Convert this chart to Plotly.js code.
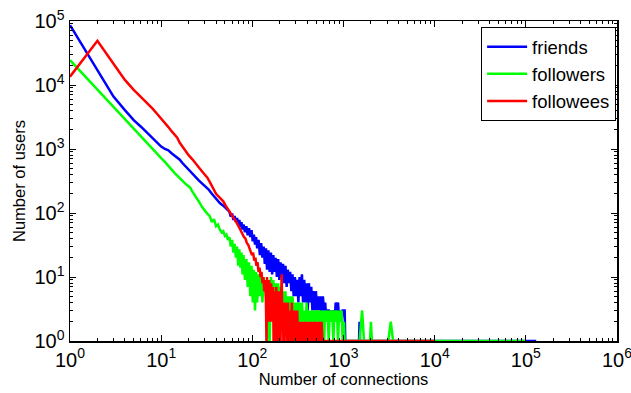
<!DOCTYPE html>
<html>
<head>
<meta charset="utf-8">
<script src="https://cdn.plot.ly/plotly-3.0.1.min.js"></script>
<style>html,body{margin:0;padding:0;background:#fff;overflow:hidden;}#chart{width:631px;height:393px;}</style>
</head>
<body>
<div id="chart"></div>
<script>
// ---- data ----
const seriesNames = ['friends', 'followers', 'followees'];
const seriesColors = ['#0000ff', '#00ff00', '#ff0000'];

const friendsX = [1,2,3,4,5,6,7,8,9,10,11,12,13,14,15,16,17,18,19,20,22,24,26,28,30,33,36,40,44,48,52,
  56,58,60,62,64,66,68,70,72,74,76,78,80,83,86,89,92,95,98,101,104,107,110,113,117,121,125,129,133,137,141,145,
  150,155,160,165,170,175,180,186,192,198,204,210,217,224,231,238,245,252,260,268,276,284,293,302,311,320,
  330,340,350,360,371,382,393,405,417,430,443,456,470,484,498,513,528,544,560,577,594,612,630,649,668,688,
  709,730,752,774,797,821,846,871,897,924,952,980,1010,1030,1045,1480,1500,1520,130000];
const friendsY = [86000,17000,6600,4050,2830,2230,1800,1480,1230,1090,1000,950,860,790,740,680,610,560,505,470,400,355,320,290,265,235,200,165,143,130,118,
  105,88,98,78,90,72,84,66,78,60,72,55,66,50,62,45,58,42,54,36,46,32,42,28,38,22,34,20,30,16,28,13,
  26,12,24,11,22,12,20,10,19,9,17,10,16,8,15,7,13,8,12,6,11,5,10,5,9,4,
  10,5,11,4,9,4,8,3,8,4,7,3,6,3,6,3,5,3,5,2,5,3,4,2,3,3,
  2,3,2,3,2,4,3,4,2,3,2,3,3,3,1,1,2,1,1];

const followersX = [1,2,3,4,5,6,7,8,9,10,11,12,13,14,15,16,17,18,19,20,21,22,24,26,28,30,32,34,36,38,40,42,
  44,46,48,50,52,54,56,58,60,62,64,66,68,70,72,74,76,78,80,83,86,89,92,95,98,101,104,107,110,113,117,121,125,129,133,137,141,145,
  150,155,160,165,170,175,180,186,192,198,204,210,217,224,231,238,245,252,260,268,276,284,293,302,311,320,
  330,340,350,360,371,382,393,405,417,430,443,456,470,484,498,513,528,544,560,577,594,612,630,649,668,688,
  709,730,752,774,797,821,846,871,897,924,952,980,1010,1030,1500,1600,1680,1950,2000,2050,3100,3300,3500,100000];
const followersY = [24500,8400,4500,2950,2100,1600,1260,1020,850,720,630,540,480,425,385,350,325,290,275,262,245,215,180,150,125,108,98,90,72,80,62,66,
  55,50,52,44,46,38,42,30,38,24,33,20,30,15,27,14,24,11,22,9,19,7,17,5,15,4,13,3,12,4,11,5,12,4,10,6,9,1,
  9,1,10,3,9,3,8,3,8,2,7,3,6,2,6,2,5,2,5,1,5,2,4,1,4,2,
  4,1,4,2,3,1,4,2,3,1,3,2,3,1,3,2,3,1,3,2,3,1,3,2,3,1,
  3,2,3,1,3,2,3,1,3,2,3,1,2,1,1,3,1,1,2,1,1,2,1,1];

const followeesX = [1,2,3,4,5,6,7,8,9,10,11,12,13,14,15,16,17,18,19,20,22,24,26,28,30,32,34,36,38,40,42,45,48,51,54,
  57,60,63,66,69,72,75,78,81,84,87,90,93,96,99,102,105,108,111,114,117,120,123,126,129,132,135,138,141,143,
  145,147,149,151,153,155,157,159,161,163,165,167,169,171,173,175,177,180,183,186,189,192,195,198,201,204,207,210,
  213,216,219,222,226,230,234,238,242,246,250,254,258,262,266,271,276,281,286,291,296,301,306,311,317,323,329,335,
  341,347,353,360,367,374,381,388,395,403,411,419,427,435,444,453,462,471,480,490,500,510,520,530,541,552,563,575,587,10000];
const followeesY = [13500,49000,21500,12000,8400,6500,5300,4300,3550,3000,2600,2200,1900,1680,1500,1250,1100,1000,880,800,690,600,520,450,400,360,310,262,225,200,185,165,152,130,115,
  105,92,82,74,66,58,52,46,42,40,34,32,28,26,22,24,18,20,15,17,12,14,10,12,8,10,6,9,4,1,
  10,3,8,2,9,3,7,2,8,2,6,3,7,1,6,2,5,1,7,2,6,1,5,2,6,1,5,11,
  2,4,1,4,1,4,2,3,1,4,1,3,2,3,1,4,1,3,1,3,1,3,1,3,1,2,1,2,
  1,2,1,2,1,2,1,2,1,2,1,2,1,2,1,2,1,2,1,2,1,2,1,2,1,2,1,2,1,1];

// axis tick labels and titles
const xTickVals = [1, 10, 100, 1000, 10000, 100000, 1000000];
const xTickText = ['10<sup>0</sup>','10<sup>1</sup>','10<sup>2</sup>','10<sup>3</sup>','10<sup>4</sup>','10<sup>5</sup>','10<sup>6</sup>'];
const yTickVals = [1, 10, 100, 1000, 10000, 100000];
const yTickText = ['10<sup>0</sup>','10<sup>1</sup>','10<sup>2</sup>','10<sup>3</sup>','10<sup>4</sup>','10<sup>5</sup>'];
const xTitle = 'Number of connections';
const yTitle = 'Number of users';

// ---- minor tick positions (2..9 in each decade) ----
function minorTicks(maxExp) {
  const out = [];
  for (let e = 0; e < maxExp; e++) {
    for (let m = 2; m <= 9; m++) out.push(m * Math.pow(10, e));
  }
  return out;
}

const xs = [friendsX, followersX, followeesX];
const ys = [friendsY, followersY, followeesY];
const traces = seriesNames.map((n, i) => ({
  type: 'scatter', mode: 'lines', name: n,
  x: xs[i], y: ys[i],
  line: {color: seriesColors[i], width: 2.5}
}));

const FONT = 'Liberation Sans, Arial, Helvetica, sans-serif';
const axisCommon = {
  type: 'log', tickmode: 'array', ticks: 'inside', ticklen: 6, tickwidth: 1, tickcolor: '#000',
  showline: true, linecolor: '#000', linewidth: 1.5, mirror: 'ticks',
  showgrid: false, zeroline: false, ticklabeloverflow: 'allow',
  tickfont: {family: FONT, size: 20, color: '#000'}
};

const layout = {
  width: 631, height: 393,
  margin: {l: 70, r: 14, t: 21, b: 52, pad: 0},
  paper_bgcolor: '#fff', plot_bgcolor: '#fff',
  font: {family: FONT, color: '#000', size: 16},
  showlegend: true,
  xaxis: Object.assign({}, axisCommon, {
    range: [0, 6], tickvals: xTickVals, ticktext: xTickText,
    minor: {tickmode: 'array', tickvals: minorTicks(6), ticks: 'inside', ticklen: 3, tickwidth: 1, tickcolor: '#000', showgrid: false},
    title: {text: xTitle, font: {family: FONT, size: 16.5}, standoff: 2}
  }),
  yaxis: Object.assign({}, axisCommon, {
    range: [0, 5], tickvals: yTickVals, ticktext: yTickText,
    minor: {tickmode: 'array', tickvals: minorTicks(5), ticks: 'inside', ticklen: 3, tickwidth: 1, tickcolor: '#000', showgrid: false},
    title: {text: yTitle, font: {family: FONT, size: 16.5}, standoff: 4}
  }),
  legend: {
    x: 0.998, y: 0.981, xanchor: 'right', yanchor: 'top',
    bgcolor: '#fff', bordercolor: '#000', borderwidth: 1.2,
    font: {family: FONT, size: 18.5}, itemwidth: 40, tracegroupgap: 0
  }
};

Plotly.newPlot('chart', traces, layout, {displayModeBar: false, staticPlot: true});
</script>
</body>
</html>
